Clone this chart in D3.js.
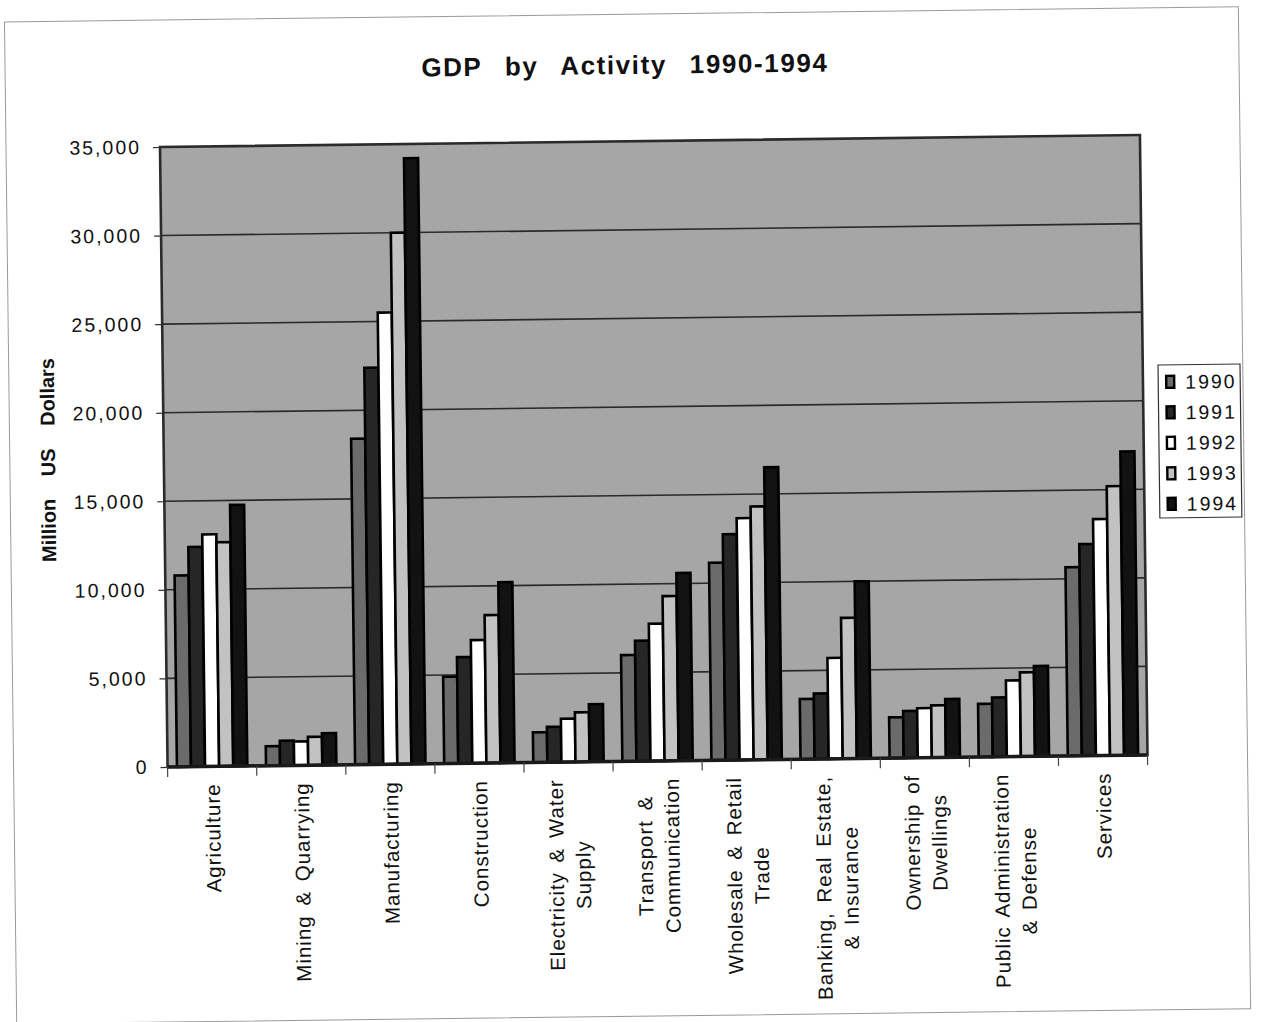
<!DOCTYPE html>
<html>
<head>
<meta charset="utf-8">
<script src="https://cdn.jsdelivr.net/npm/d3@7"></script>
<style>
  html, body { margin: 0; padding: 0; background: #fff; }
  svg { display: block; }
  text { font-family: "Liberation Sans", Arial, Helvetica, sans-serif; fill: #111; }
</style>
</head>
<body>
<svg id="chart" width="1262" height="1022"></svg>
<script>
// GDP by economic activity, million US dollars, 1990-1994
const categories = [
  "Agriculture",
  "Mining & Quarrying",
  "Manufacturing",
  "Construction",
  "Electricity & Water\nSupply",
  "Transport &\nCommunication",
  "Wholesale & Retail\nTrade",
  "Banking, Real Estate,\n& Insurance",
  "Ownership of\nDwellings",
  "Public Administration\n& Defense",
  "Services"
];
const years = ["1990", "1991", "1992", "1993", "1994"];
const gdp1990 = [10800, 1100, 18400, 4900, 1700, 6000, 11150, 3400, 2300, 3000, 10650];
const gdp1991 = [12400, 1400, 22400, 6000, 2000, 6800, 12750, 3700, 2650, 3350, 11950];
const gdp1992 = [13100, 1350, 25500, 6950, 2450, 7750, 13650, 5700, 2800, 4300, 13350];
const gdp1993 = [12650, 1600, 30000, 8350, 2800, 9300, 14300, 7950, 2950, 4750, 15200];
const gdp1994 = [14750, 1800, 34200, 10200, 3250, 10600, 16500, 10000, 3300, 5100, 17150];
const yTicks = [0, 5000, 10000, 15000, 20000, 25000, 30000, 35000];
const titleText = "GDP by Activity 1990-1994";
const yTitle = "Million US Dollars";

const seriesValues = [gdp1990, gdp1991, gdp1992, gdp1993, gdp1994];
const seriesFill = ["#6b6b6b", "#262626", "#ffffff", "#c2c2c2", "#121212"];

// table built from the arrays above
const rows = categories.map((c, i) => ({
  category: c,
  values: years.map((y, k) => ({ year: y, value: seriesValues[k][i], k }))
}));

// plot geometry (page is printed slightly askew)
const plot = { left: 160, top: 147, width: 980, height: 620 };
const tilt = -0.7;
const sinT = Math.sin(tilt * Math.PI / 180), cosT = Math.cos(tilt * Math.PI / 180);
// convert a point on the printed page to the tilted drawing frame
function toFrame(px, py) {
  const dx = px - plot.left, dy = py - plot.top;
  return [plot.left + dx * cosT + dy * sinT, plot.top - dx * sinT + dy * cosT];
}

const svg = d3.select("#chart");
const root = svg.append("g").attr("transform", `rotate(${tilt},${plot.left},${plot.top})`);

// page frame
root.append("rect")
  .attr("x", 6).attr("y", 20).attr("width", 1234).attr("height", 1002)
  .attr("fill", "none").attr("stroke", "#9a9a9a").attr("stroke-width", 1);

const x = d3.scaleBand().domain(categories).range([plot.left, plot.left + plot.width]).padding(0);
const xInner = d3.scaleBand().domain(years)
  .range([x.bandwidth() * 0.105, x.bandwidth() * 0.895]).padding(0);
const y = d3.scaleLinear().domain([0, 35000]).range([plot.top + plot.height, plot.top]);

// plot background
root.append("rect")
  .attr("x", plot.left).attr("y", plot.top)
  .attr("width", plot.width).attr("height", plot.height)
  .attr("fill", "#a6a6a6");

// gridlines
root.append("g")
  .selectAll("line")
  .data(yTicks.filter(t => t > 0 && t < 35000))
  .join("line")
  .attr("x1", plot.left).attr("x2", plot.left + plot.width)
  .attr("y1", d => y(d)).attr("y2", d => y(d))
  .attr("stroke", "#2a2a2a").attr("stroke-width", 1.6);

// bars
const groups = root.append("g")
  .selectAll("g")
  .data(rows)
  .join("g")
  .attr("transform", d => `translate(${x(d.category)},0)`);

groups.selectAll("rect")
  .data(d => d.values)
  .join("rect")
  .attr("x", d => xInner(d.year))
  .attr("width", xInner.bandwidth())
  .attr("y", d => y(d.value))
  .attr("height", d => y(0) - y(d.value))
  .attr("fill", d => seriesFill[d.k])
  .attr("stroke", "#000")
  .attr("stroke-width", 2.6);

// plot border
root.append("rect")
  .attr("x", plot.left).attr("y", plot.top)
  .attr("width", plot.width).attr("height", plot.height)
  .attr("fill", "none").attr("stroke", "#2b2b2b").attr("stroke-width", 2.6);
root.append("line")
  .attr("x1", plot.left).attr("x2", plot.left + plot.width)
  .attr("y1", y(0)).attr("y2", y(0))
  .attr("stroke", "#1a1a1a").attr("stroke-width", 3.5);

// y axis
const yAxis = d3.axisLeft(y)
  .tickValues(yTicks)
  .tickSize(7)
  .tickPadding(12)
  .tickFormat(d3.format(","));
const yAxisG = root.append("g")
  .attr("transform", `translate(${plot.left},0)`)
  .call(yAxis);
yAxisG.select(".domain").remove();
yAxisG.selectAll(".tick line").attr("stroke", "#333").attr("stroke-width", 1.2);
yAxisG.selectAll(".tick text")
  .attr("font-size", 19.5)
  .attr("letter-spacing", 2)
  .attr("fill", "#111")
  .style("font-family", "'Liberation Sans', Arial, sans-serif");

// x axis ticks at category boundaries
const xAxis = d3.axisBottom(x).tickSize(0).tickFormat("");
const xAxisG = root.append("g")
  .attr("transform", `translate(0,${y(0)})`)
  .call(xAxis);
xAxisG.select(".domain").remove();
xAxisG.append("g")
  .selectAll("line")
  .data(categories.map(c => x(c)).concat([plot.left + plot.width]))
  .join("line")
  .attr("x1", d => d).attr("x2", d => d)
  .attr("y1", 0).attr("y2", 10)
  .attr("stroke", "#444").attr("stroke-width", 1.2);

// category labels, read bottom-to-top, top edge just under the axis
const labelTop = y(0) + 17;
const lineGap = 27;
xAxisG.selectAll(".tick").each(function (d) {
  const lines = d.split("\n");
  const tick = d3.select(this);
  const g = tick.append("g");
  const texts = lines.map((ln, i) => g.append("text")
    .attr("font-size", 20.5)
    .attr("letter-spacing", 1.0)
    .attr("word-spacing", 3)
    .attr("text-anchor", "middle")
    .attr("fill", "#111")
    .text(ln));
  const widths = texts.map(t => t.node().getComputedTextLength());
  const maxW = Math.max(...widths);
  const n = lines.length;
  texts.forEach((t, i) => {
    const off = (i - (n - 1) / 2) * lineGap + 7.5;
    t.attr("transform", `translate(${off},${labelTop - y(0) + maxW / 2}) rotate(-90)`);
  });
});

// title
const tp = toFrame(625, 74);
root.append("text")
  .attr("x", tp[0]).attr("y", tp[1])
  .attr("text-anchor", "middle")
  .attr("font-size", 26)
  .attr("font-weight", "bold")
  .attr("letter-spacing", 1.6)
  .attr("word-spacing", 14)
  .text(titleText);

// y axis title
const yp = toFrame(55, 460);
root.append("text")
  .attr("transform", `translate(${yp[0]},${yp[1]}) rotate(-90)`)
  .attr("text-anchor", "middle")
  .attr("font-size", 20)
  .attr("font-weight", "bold")
  .attr("word-spacing", 17)
  .text(yTitle);

// legend
const lp = toFrame(1158, 365);
const legend = root.append("g").attr("transform", `translate(${lp[0]},${lp[1]})`);
legend.append("rect")
  .attr("width", 82).attr("height", 153)
  .attr("fill", "#fff").attr("stroke", "#333").attr("stroke-width", 1.2);
const items = legend.selectAll("g.item")
  .data(years)
  .join("g")
  .attr("class", "item")
  .attr("transform", (d, i) => `translate(0,${17 + i * 30.5})`);
items.append("rect")
  .attr("x", 8).attr("y", -6)
  .attr("width", 8).attr("height", 12)
  .attr("fill", (d, i) => seriesFill[i])
  .attr("stroke", "#000").attr("stroke-width", 2.4);
items.append("text")
  .attr("x", 27).attr("y", 7)
  .attr("font-size", 19.5)
  .attr("letter-spacing", 2)
  .text(d => d);
</script>
</body>
</html>
